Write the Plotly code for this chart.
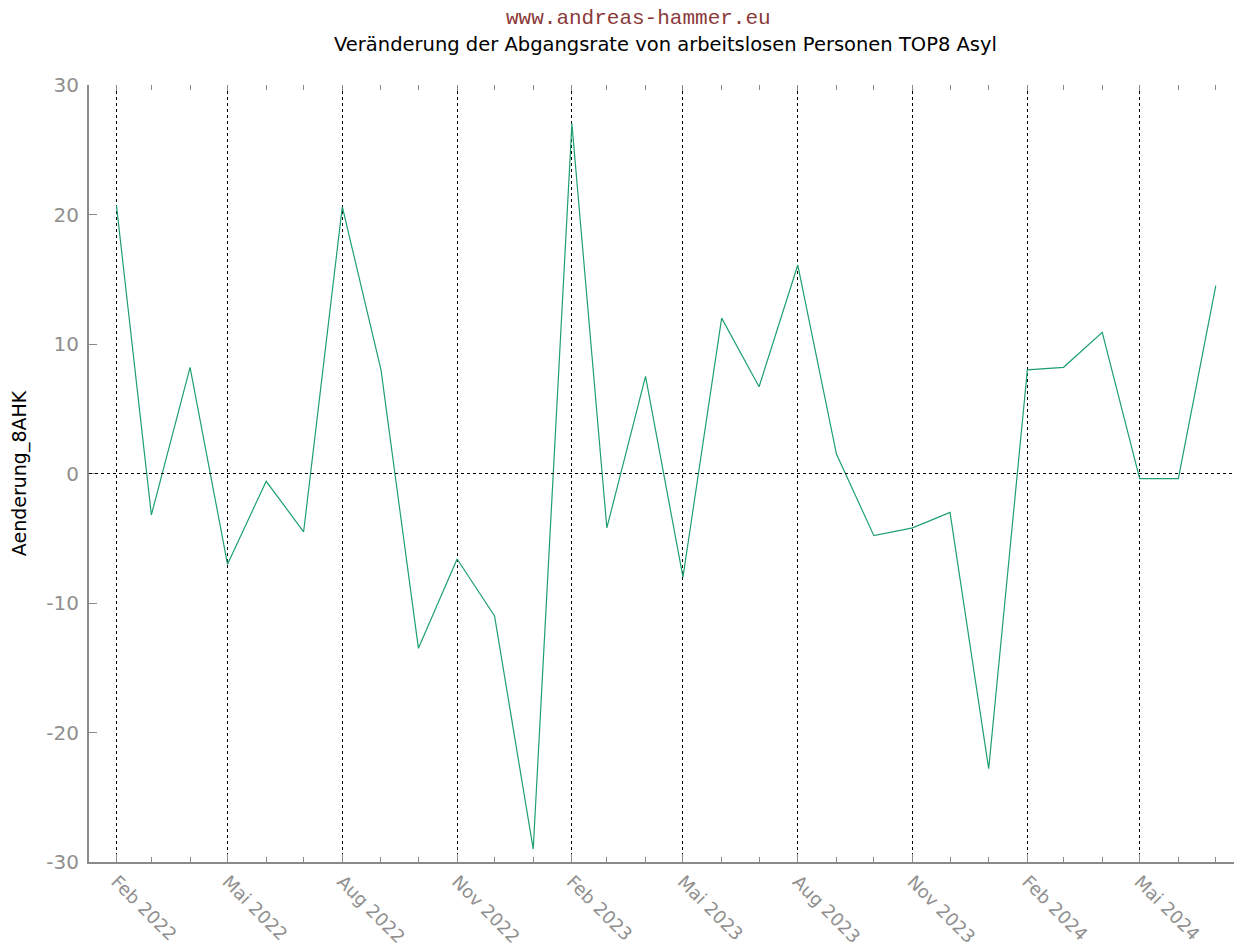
import plotly.graph_objects as go

months = ["2022-02-01", "2022-03-01", "2022-04-01", "2022-05-01", "2022-06-01", "2022-07-01",
          "2022-08-01", "2022-09-01", "2022-10-01", "2022-11-01", "2022-12-01", "2023-01-01",
          "2023-02-01", "2023-03-01", "2023-04-01", "2023-05-01", "2023-06-01", "2023-07-01",
          "2023-08-01", "2023-09-01", "2023-10-01", "2023-11-01", "2023-12-01", "2024-01-01",
          "2024-02-01", "2024-03-01", "2024-04-01", "2024-05-01", "2024-06-01", "2024-07-01"]
aenderung_8ahk = [20.7, -3.2, 8.2, -7.0, -0.6, -4.5,
                  20.6, 8.0, -13.5, -6.6, -11.0, -29.0,
                  27.0, -4.2, 7.5, -8.0, 12.0, 6.7,
                  16.1, 1.5, -4.8, -4.2, -3.0, -22.8,
                  8.0, 8.2, 10.9, -0.4, -0.4, 14.5]

tick_vals = ["2022-02-01", "2022-05-01", "2022-08-01", "2022-11-01", "2023-02-01",
             "2023-05-01", "2023-08-01", "2023-11-01", "2024-02-01", "2024-05-01"]
tick_text = ["Feb 2022", "Mai 2022", "Aug 2022", "Nov 2022", "Feb 2023",
             "Mai 2023", "Aug 2023", "Nov 2023", "Feb 2024", "Mai 2024"]

y_tick_vals = [-30, -20, -10, 0, 10, 20, 30]
y_tick_text = ["-30", "-20", "-10", "0", "10", "20", "30"]

fig = go.Figure()
fig.add_trace(go.Scatter(x=months, y=aenderung_8ahk, mode="lines",
                         line=dict(color="rgb(30,160,110)", width=1.2),
                         showlegend=False))
# helper (empty) trace so the mirrored top tick axis is drawn
fig.add_trace(go.Scatter(x=[months[0]], y=[None], xaxis="x2", mode="lines",
                         showlegend=False, hoverinfo="skip"))

axis_col = "#8a8a8a"
x_range = ["2022-01-10", "2024-07-22"]

# page body has an 8px margin: figure sits at (8, 8)
W, H = 1234, 944
L, R, T, B = 81, 0, 77, 90
plot_h = H - T - B

fig.update_layout(
    width=W, height=H,
    margin=dict(l=L, r=R, t=T, b=B, autoexpand=False),
    paper_bgcolor="white", plot_bgcolor="white",
    xaxis=dict(
        type="date", range=x_range,
        tickvals=tick_vals, ticktext=tick_text, tickangle=45,
        tickfont=dict(family="DejaVu Sans", size=18, color="#8f8f8f"),
        ticks="inside", ticklen=8, tickcolor=axis_col, tickwidth=1,
        showline=True, linecolor=axis_col, linewidth=2,
        showgrid=True, gridcolor="black", griddash="dot", gridwidth=1,
        minor=dict(ticks="inside", dtick="M1", tick0="2022-02-01", ticklen=5,
                   tickcolor=axis_col, showgrid=False),
        zeroline=False, automargin=False,
    ),
    xaxis2=dict(
        type="date", range=x_range, overlaying="x", side="top",
        tickvals=tick_vals, showticklabels=False,
        ticks="inside", ticklen=6, tickcolor=axis_col,
        minor=dict(ticks="inside", dtick="M1", tick0="2022-02-01", ticklen=5,
                   tickcolor=axis_col, showgrid=False),
        showline=False, showgrid=False, zeroline=False, automargin=False,
    ),
    yaxis=dict(
        range=[-30, 30], tickvals=y_tick_vals, ticktext=y_tick_text,
        tickfont=dict(family="DejaVu Sans", size=20, color="#8f8f8f"),
        ticks="inside", ticklen=8, tickcolor=axis_col, ticklabelstandoff=4,
        showline=True, linecolor=axis_col, linewidth=2,
        showgrid=False, zeroline=False, automargin=False,
        title=dict(text="Aenderung_8AHK", font=dict(family="DejaVu Sans", size=19, color="black"),
                   standoff=20),
    ),
    annotations=[
        dict(text="www.andreas-hammer.eu", xref="paper", yref="paper",
             x=(638 - 89) / (1242 - 89), y=1 + (85 - 19) / plot_h,
             showarrow=False, font=dict(family="Liberation Mono", size=21, color="#8b3a3a"),
             xanchor="center", yanchor="middle"),
        dict(text="Veränderung der Abgangsrate von arbeitslosen Personen TOP8 Asyl", xref="paper", yref="paper",
             x=(665 - 89) / (1242 - 89), y=1 + (85 - 45) / plot_h, showarrow=False,
             font=dict(family="DejaVu Sans", size=19.5, color="black"),
             xanchor="center", yanchor="middle"),
    ],
    shapes=[dict(type="line", xref="paper", yref="y", x0=0, x1=1, y0=0, y1=0,
                 line=dict(color="black", width=1, dash="dot"))],
)

fig.write_html("out.html")
